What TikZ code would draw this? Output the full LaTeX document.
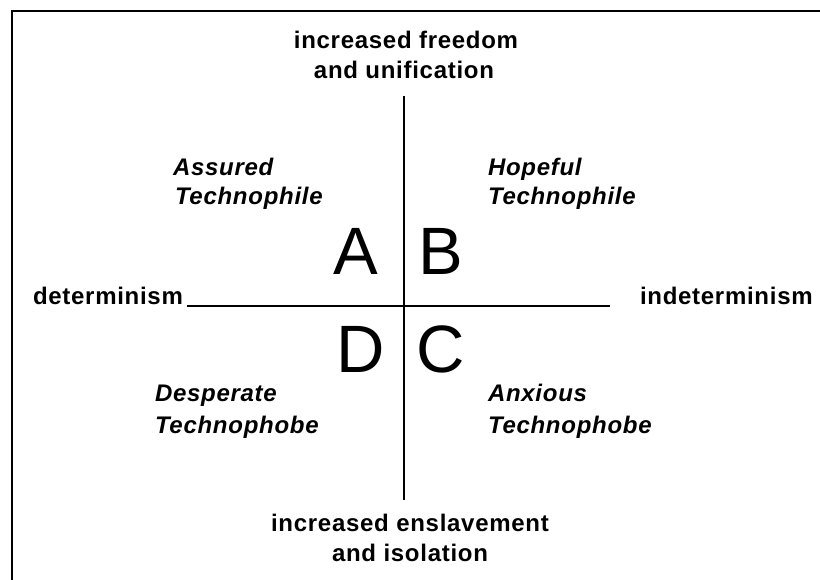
\documentclass[tikz,border=0pt]{standalone}
\usepackage{fontspec}
\setmainfont{Liberation Sans}
\newfontfamily\lab[LetterSpace=3]{Liberation Sans}
\begin{document}
\begin{tikzpicture}[x=1pt,y=-1pt,inner sep=0pt,outer sep=0pt]
\tikzset{
  axislabel/.style={font=\lab\bfseries\fontsize{24}{28}\selectfont,anchor=base},
  sidelabel/.style={font=\lab\bfseries\fontsize{24}{28}\selectfont,anchor=base west},
  quad/.style={font=\lab\bfseries\itshape\fontsize{24}{28}\selectfont,anchor=base west},
  bigletter/.style={font=\fontsize{67}{67}\selectfont,anchor=base west},
  frame/.style={line width=2.5pt},
  axis/.style={line width=2pt}
}
\useasboundingbox (0,0) rectangle (820,580);
\fill[white] (0,0) rectangle (820,580);
\coordinate (fbl) at (12,580);
\coordinate (ftl) at (12,11);
\coordinate (ftr) at (820,11);
\draw[frame] (fbl) -- (ftl) -- (ftr);
\coordinate (vtop) at (404,96);
\coordinate (vbot) at (404,500);
\coordinate (hl) at (187,306);
\coordinate (hr) at (610,306);
\draw[axis] (vtop) -- (vbot);
\draw[axis] (hl) -- (hr);
\node[axislabel] (top1) at (406,49) {increased freedom};
\node[axislabel] (top2) at (404,79) {and unification};
\node[axislabel] (bot1) at (410,531) {increased enslavement};
\node[axislabel] (bot2) at (410,561) {and isolation};
\node[sidelabel] (det) at (33,305) {determinism};
\node[sidelabel] (indet) at (640,305) {indeterminism};
\node[bigletter] (A) at (333,275) {A};
\node[bigletter] (B) at (418,275) {B};
\node[bigletter] (D) at (336,372) {D};
\node[bigletter] (C) at (416,372) {C};
\node[quad] (q1a) at (173,176) {Assured};
\node[quad] (q1b) at (175,205) {Technophile};
\node[quad] (q2a) at (488,176) {Hopeful};
\node[quad] (q2b) at (488,205) {Technophile};
\node[quad] (q4a) at (155,401) {Desperate};
\node[quad] (q4b) at (155,433) {Technophobe};
\node[quad] (q3a) at (488,401) {Anxious};
\node[quad] (q3b) at (488,433) {Technophobe};
\end{tikzpicture}
\end{document}
